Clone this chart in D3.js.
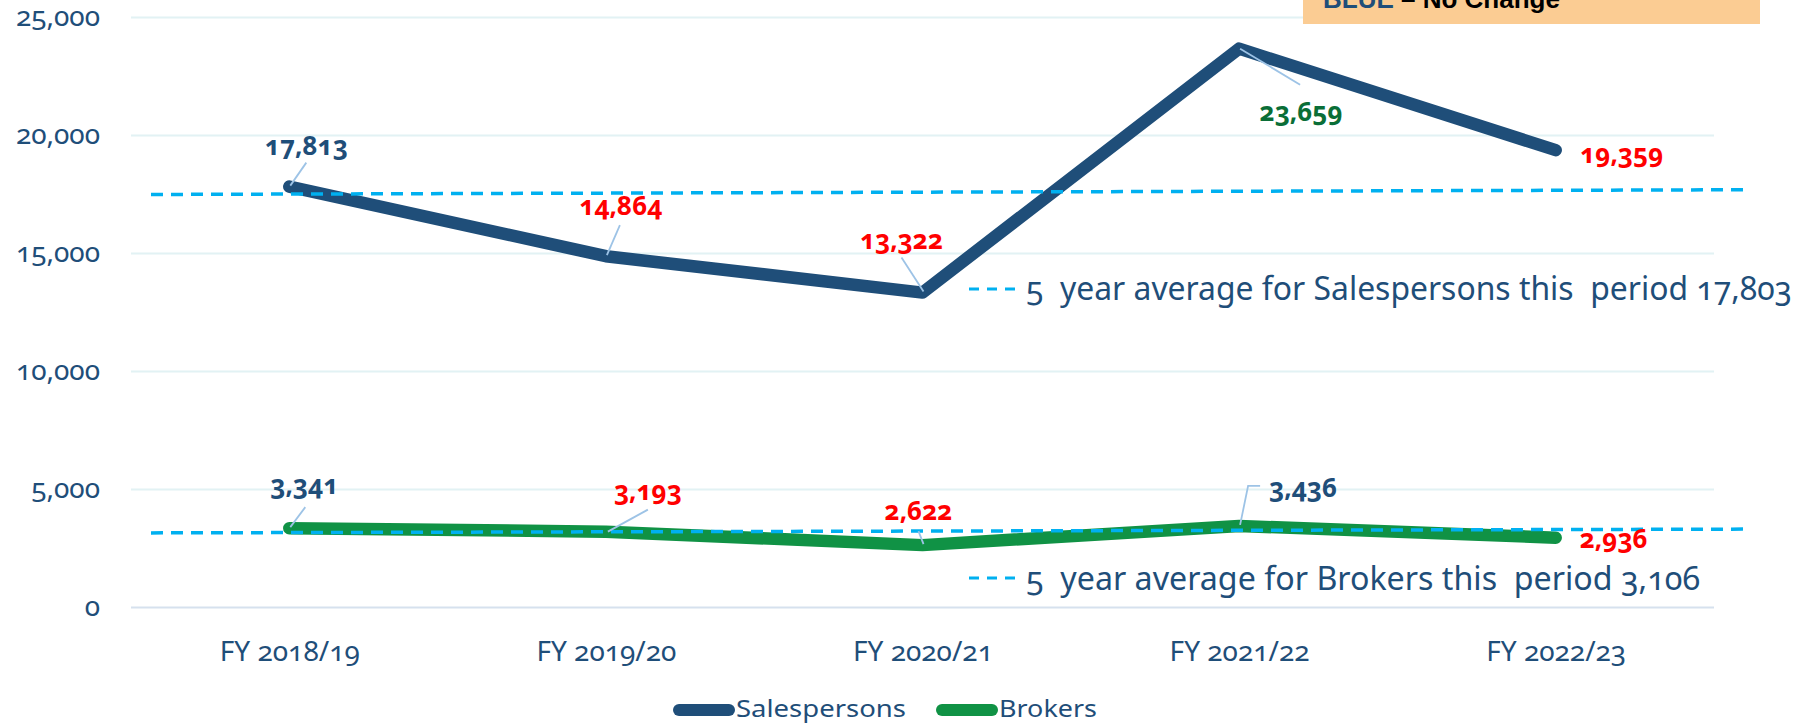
<!DOCTYPE html>
<html><head><meta charset="utf-8">
<script src="https://cdn.jsdelivr.net/npm/d3@7"></script>
<style>
html,body{margin:0;padding:0;background:#fff;}
svg{display:block;font-family:"Noto Sans",sans-serif;}
.num{font-variant-numeric:oldstyle-nums;font-feature-settings:"onum" 1;}
.pre{white-space:pre;}
</style></head><body>
<svg id="chart" width="1812" height="724"></svg>
<script>
// ---- data ----
const categories = ["FY 2018/19", "FY 2019/20", "FY 2020/21", "FY 2021/22", "FY 2022/23"];
const salespersons = [17813, 14864, 13322, 23659, 19359];
const brokers = [3341, 3193, 2622, 3436, 2936];
const yTicks = [0, 5000, 10000, 15000, 20000, 25000];
const salesAverage = 17803;
const brokersAverage = 3106;
// average lines as drawn in the picture (value at left end, value at right end)
const salesAvgLine = [17480, 17680];
const brokersAvgLine = [3140, 3300];
const salesLabelTone = ["blue", "red", "red", "green", "red"];
const brokersLabelTone = ["blue", "red", "red", "blue", "red"];
const seriesNames = ["Salespersons", "Brokers"];
const notePieces = ["BLUE", " \u2013 No Change"];

// ---- layout / style ----
const W = 1812, H = 724;
const plotLeft = 131, plotRight = 1714, plotTop = 17, plotBottom = 607;
const toneColor = {blue: "#1f4e79", red: "#ff0000", green: "#0a6e37"};
const salesColor = "#1f4e79", brokersColor = "#109245";
const avgColor = "#00b0f0", leaderColor = "#9dc3e6", textColor = "#1f4e79";
// label centre offsets from the data point, and leader line points (relative)
const salesLabelOff = [[17,-41],[15,-50],[-21,-53],[62,63],[66,4]];
const brokersLabelOff = [[15,-43],[42,-41],[-4,-34],[64,-38],[58,1]];
const salesLeaders = [[[17,-24],[1,-1]], [[14,-31],[1,-1]], [[-21,-35],[1,-1]], [[61,36],[1,0]], null];
const brokersLeaders = [[[16,-21],[1,-1]], [[42,-22],[2,0]], [[-4,-14],[1,-1]], [[21,-40],[9,-40],[1,-1]], null];

const svg = d3.select("#chart");
const x = d3.scalePoint().domain(categories).range([plotLeft, plotRight]).padding(0.5);
const y = d3.scaleLinear().domain([0, 25000]).range([plotBottom, plotTop]);

// gridlines + y axis
const gy = svg.append("g").attr("transform", `translate(${plotLeft},0)`)
  .call(d3.axisLeft(y).tickValues(yTicks).tickSize(-(plotRight - plotLeft)).tickFormat(d3.format(",")).tickPadding(31));
gy.select(".domain").remove();
gy.selectAll(".tick line").attr("stroke", d => d === 0 ? "#d6e1ee" : "#e2f2f4").attr("stroke-width", 2);
gy.selectAll(".tick text").attr("fill", textColor).attr("font-size", 28)
  .attr("font-family", "Noto Sans").attr("class", "num");

// x axis
const gx = svg.append("g").attr("transform", `translate(0,${plotBottom})`)
  .call(d3.axisBottom(x).tickSize(0));
gx.select(".domain").remove();
gx.selectAll(".tick text").attr("y", 44).attr("dy", "0.35em").attr("fill", textColor)
  .attr("font-size", 28).attr("font-family", "Noto Sans").attr("class", "num");

// series lines
const line = d3.line().x((d, i) => x(categories[i])).y(d => y(d));
svg.append("path").datum(salespersons).attr("d", line).attr("fill", "none")
  .attr("stroke", salesColor).attr("stroke-width", 12.5).attr("stroke-linecap", "round").attr("stroke-linejoin", "round");
svg.append("path").datum(brokers).attr("d", line).attr("fill", "none")
  .attr("stroke", brokersColor).attr("stroke-width", 12.5).attr("stroke-linecap", "round").attr("stroke-linejoin", "round");

// average dashed lines
const avgX = [151, 1743];
[salesAvgLine, brokersAvgLine].forEach(v => {
  svg.append("line").attr("x1", avgX[0]).attr("x2", avgX[1]).attr("y1", y(v[0])).attr("y2", y(v[1]))
    .attr("stroke", avgColor).attr("stroke-width", 3.5).attr("stroke-dasharray", "12,8");
});

// leader lines and labels
function drawLabels(values, offs, leaders, tones) {
  values.forEach((v, i) => {
    const px = x(categories[i]), py = y(v);
    if (leaders[i]) {
      const pts = leaders[i].map(p => [px + p[0], py + p[1]]);
      svg.append("path").attr("d", d3.line()(pts)).attr("fill", "none")
        .attr("stroke", leaderColor).attr("stroke-width", 1.8);
    }
    svg.append("text").attr("class", "num").attr("x", px + offs[i][0]).attr("y", py + offs[i][1])
      .attr("dy", "0.35em").attr("text-anchor", "middle").attr("font-size", 26).attr("font-weight", "bold")
      .attr("fill", toneColor[tones[i]]).text(d3.format(",")(v));
  });
}
drawLabels(salespersons, salesLabelOff, salesLeaders, salesLabelTone);
drawLabels(brokers, brokersLabelOff, brokersLeaders, brokersLabelTone);

// average annotations
const notes = [
  {avg: salesAverage, name: "Salespersons", yDash: 289, yBase: 300, len: 766},
  {avg: brokersAverage, name: "Brokers", yDash: 578, yBase: 590, len: 674}
];
notes.forEach(n => {
  svg.append("line").attr("x1", 969).attr("x2", 1015).attr("y1", n.yDash).attr("y2", n.yDash)
    .attr("stroke", avgColor).attr("stroke-width", 3).attr("stroke-dasharray", "10,8");
  svg.append("text").attr("class", "num pre").attr("x", 1026).attr("y", n.yBase)
    .attr("font-size", 32).attr("fill", textColor)
    .attr("textLength", n.len).attr("lengthAdjust", "spacingAndGlyphs")
    .text(`5  year average for ${n.name} this  period ${d3.format(",")(n.avg)}`);
});

// legend
const legend = [
  {name: seriesNames[0], color: salesColor, x0: 679, x1: 729, tx: 736, len: 170},
  {name: seriesNames[1], color: brokersColor, x0: 942, x1: 992, tx: 999, len: 98}
];
legend.forEach(l => {
  svg.append("line").attr("x1", l.x0).attr("x2", l.x1).attr("y1", 710).attr("y2", 710)
    .attr("stroke", l.color).attr("stroke-width", 12).attr("stroke-linecap", "round");
  svg.append("text").attr("x", l.tx).attr("y", 717).attr("font-size", 24)
    .attr("fill", textColor).attr("textLength", l.len).attr("lengthAdjust", "spacingAndGlyphs").text(l.name);
});

// top-right note box (cut off at top)
svg.append("rect").attr("x", 1303).attr("y", -40).attr("width", 457).attr("height", 64).attr("fill", "#fbcc93");
const nt = svg.append("text").attr("x", 1323).attr("y", 8).attr("font-family", "Liberation Sans, Arial, sans-serif")
  .attr("font-weight", "bold").attr("font-size", 26).attr("class", "pre");
nt.append("tspan").attr("fill", "#1f4e79").text(notePieces[0]);
nt.append("tspan").attr("fill", "#000").text(notePieces[1]);
</script>
</body></html>
